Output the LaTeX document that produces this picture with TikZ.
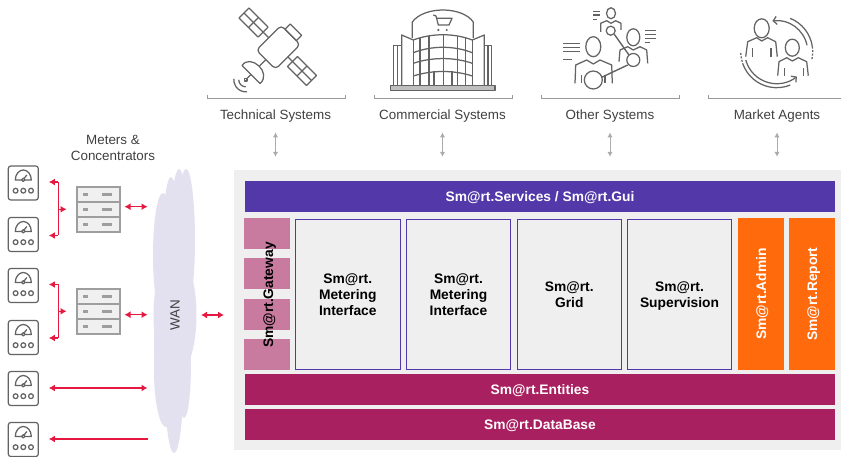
\documentclass[tikz,border=0pt]{standalone}
\usepackage{fontspec}
\setmainfont{Liberation Sans}
\usetikzlibrary{arrows.meta}
\definecolor{iconcol}{HTML}{636363}
\definecolor{redcol}{HTML}{E6183F}
\definecolor{purplecol}{HTML}{5238A8}
\definecolor{wineccol}{HTML}{A92060}
\definecolor{pinkcol}{HTML}{C97A9F}
\definecolor{orangecol}{HTML}{FF6A0D}
\definecolor{panelcol}{HTML}{EFEFEF}
\definecolor{cloudcol}{HTML}{E3E0EF}
\definecolor{textcol}{HTML}{404040}
\tikzset{
	icon/.style={draw=iconcol,line width=1.25pt,line join=round},
	lab/.style={text=textcol,font=\fontsize{13.4}{16}\selectfont,align=center,inner sep=0pt},
	blab/.style={font=\fontsize{13.8}{16}\selectfont\bfseries,align=center,inner sep=0pt},
	bar/.style={blab,text=white,text height=10pt,text depth=0pt,minimum height=31pt,minimum width=590pt},
	modbox/.style={blab,draw=purplecol,line width=1.1pt,fill=panelcol,minimum width=104.5pt,minimum height=150pt},
	sidebox/.style={blab,text=white,text height=10pt,text depth=0pt,fill=orangecol,rotate=90,minimum width=152pt,minimum height=46pt},
	gateblock/.style={fill=pinkcol,minimum width=46pt,minimum height=31pt,inner sep=0pt},
	meterbox/.style={draw=iconcol,rounded corners=2.5pt,line width=1.2pt,fill=white,minimum width=30pt,minimum height=34pt,inner sep=0pt},
	concbox/.style={draw=black!38,line width=2pt,fill=black!6,minimum width=43pt,minimum height=45pt,inner sep=0pt},
	redarrow/.style={draw=redcol,line width=1.2pt,{Latex[length=6pt,width=7pt]}-{Latex[length=6pt,width=7pt]}},
	redone/.style={draw=redcol,line width=1.2pt,-{Latex[length=6pt,width=7pt]}},
	greyarrow/.style={draw=black!33,line width=1pt,{Latex[length=5pt,width=5.5pt]}-{Latex[length=5pt,width=5.5pt]}},
	bracketline/.style={draw=black!40,line width=0.9pt},
	meterface/.pic={
		\draw[icon] (-8,-3) arc[start angle=180,end angle=360,x radius=8,y radius=10] -- cycle;
		\draw[icon] (0,-3.5) -- (3.5,-8);
		\draw[icon,fill=white] (0,-3.2) circle (1.7);
		\foreach \cx in {-7.7,0,7.7}
			\draw[icon] (\cx,7.7) circle (2.4);
	},
	concface/.pic={
		\draw[draw=black!38,line width=2pt] (-21.5,-7.5) -- (21.5,-7.5);
		\draw[draw=black!38,line width=2pt] (-21.5,7.5) -- (21.5,7.5);
		\foreach \ry in {-15,0,15} {
			\fill[black!38] (-15,\ry-1.5) rectangle (-10,\ry+1.5);
			\fill[black!38] (4,\ry-1.5) rectangle (14,\ry+1.5);
		}
	},
}
\begin{document}
\begin{tikzpicture}[x=1pt,y=-1pt]
	\useasboundingbox (0,0) rectangle (841,457);
	% main panel
	\node[fill=panelcol,minimum width=607pt,minimum height=280pt,inner sep=0pt] (panel) at (537.5,310) {};
	\node[bar,fill=purplecol] (services) at (540,196.5) {Sm@rt.Services / Sm@rt.Gui};
	\node[gateblock] (gate1) at (267,233.5) {};
	\node[gateblock] (gate2) at (267,273.5) {};
	\node[gateblock] (gate3) at (267,314.5) {};
	\node[gateblock] (gate4) at (267,354.5) {};
	\node[blab,rotate=90,text=black,text height=10pt,text depth=0pt] (gateway) at (268,295) {Sm@rt.Gateway};
	\node[modbox] (metering1) at (347.8,294.5) {Sm@rt.\\Metering\\Interface};
	\node[modbox] (metering2) at (458.5,294.5) {Sm@rt.\\Metering\\Interface};
	\node[modbox] (grid) at (569.3,294.5) {Sm@rt.\\Grid};
	\node[modbox] (supervision) at (679.5,294.5) {Sm@rt.\\Su\smash{p}ervision};
	\node[sidebox] (admin) at (761,294) {Sm@rt.Admin};
	\node[sidebox] (report) at (812,294) {Sm@rt.Report};
	\node[bar,fill=wineccol] (entities) at (540,389.5) {Sm@rt.Entities};
	\node[bar,fill=wineccol] (database) at (540,424.5) {Sm@rt.DataBase};
	% cloud
	\foreach \cx/\cy/\rx/\ry in {163/255/10/62,171/240/8/63,179/230/8/61,186/240/9/71,176/250/18/60,175/315/21.5/62,166/370/12/57,174/385/9/68,184/365/7/53,172/345/18/60}
		\fill[cloudcol] (\cx,\cy) ellipse (\rx pt and \ry pt);
	\node[lab,rotate=90] (wan) at (175,315) {WAN};
	% meters
	\foreach \n/\my in {1/183,2/234.5,3/285.5,4/337.5,5/388.5,6/439.5} {
		\node[meterbox] (meter\n) at (23.3,\my) {};
		\pic at (meter\n) {meterface};
	}
	\node[concbox] (conc1) at (98,209.3) {};
	\pic at (conc1) {concface};
	\node[concbox] (conc2) at (98,311.3) {};
	\pic at (conc2) {concface};
	\node[lab] (metersl) at (113,148) {Meters \&\\Concentrators};
	% red connectors
	\coordinate (brA) at (58,182);
	\coordinate (brB) at (58,235.5);
	\coordinate (brC) at (58,284.5);
	\coordinate (brD) at (58,338);
	\draw[redcol,line width=1pt] (brA) -- (brB);
	\draw[redcol,line width=1pt] (brC) -- (brD);
	\draw[redone,shorten >=10pt] (brA) -- (brA -| meter1.east);
	\draw[redone,shorten >=10pt] (brB) -- (brB -| meter2.east);
	\draw[redone,shorten >=10pt] (brC) -- (brC -| meter3.east);
	\draw[redone,shorten >=10pt] (brD) -- (brD -| meter4.east);
	\draw[redone,shorten >=9pt] (brA |- conc1.west) -- (conc1.west);
	\draw[redone,shorten >=9pt] (brC |- conc2.west) -- (conc2.west);
	\coordinate (cloudA) at (147.5,206.7);
	\coordinate (cloudB) at (147.5,314.7);
	\coordinate (cloudC) at (147.5,388);
	\coordinate (cloudD) at (148,439);
	\coordinate (wanout) at (201,315);
	\coordinate (gatein) at (224,315);
	\draw[redarrow] (124.5,206.7 |- cloudA) -- (cloudA);
	\draw[redarrow,line width=1.5pt] (124.5,314.7 |- cloudB) -- (cloudB);
	\draw[redarrow,line width=1.5pt,shorten <=10pt] (cloudC -| meter5.east) -- (cloudC);
	\draw[redone,line width=1.5pt,shorten >=10pt] (cloudD) -- (cloudD -| meter6.east);
	\draw[redarrow,line width=1.5pt] (wanout) -- (gatein);
	% top groups
	\node[lab] (technical) at (275.5,116) {Technical Systems};
	\node[lab] (commercial) at (442.5,116) {Commercial Systems};
	\node[lab] (other) at (610,116) {Other Systems};
	\node[lab] (market) at (777,116) {Market Agents};
	\draw[bracketline] (207,95) -- (207,98.5) -- (345,98.5) -- (345,95);
	\draw[bracketline] (374,95) -- (374,98.5) -- (512,98.5) -- (512,95);
	\draw[bracketline] (541,95) -- (541,98.5) -- (679,98.5) -- (679,95);
	\draw[bracketline] (708,95) -- (708,98.5) -- (841,98.5);
	\foreach \g in {technical,commercial,other,market}
		\draw[greyarrow,shorten <=10pt,shorten >=13pt] (\g.south) -- (\g.south |- panel.north);
	% satellite
	\begin{scope}[shift={(278.3,47.3)},rotate=45]
		\draw[icon,rounded corners=4pt] (-17.5,-13.5) rectangle (17.5,13.5);
		\draw[icon] (-7,-48.5) rectangle (7,-21.5);
		\draw[icon] (0,-48.5) -- (0,-21.5);
		\draw[icon] (-7,-35) -- (7,-35);
		\draw[icon] (0,-21.5) -- (0,-13.5);
		\draw[icon] (-7,20) rectangle (7,47);
		\draw[icon] (0,20) -- (0,47);
		\draw[icon] (-7,33.5) -- (7,33.5);
		\draw[icon] (0,13.5) -- (0,20);
		\draw[icon] (17.5,-8) rectangle (25,8);
		\draw[icon] (-38.6,-12.7) .. controls (-24,-16) and (-22,14) .. (-38.6,12.7) -- cycle;
		\draw[icon] (-26.5,0) -- (-17.5,0);
		\draw[icon] (-38.6,0) -- (-44,0);
		\draw[icon] (-46,0) circle (1.8);
		\draw[icon] (-46,0) ++(135:7) arc[start angle=135,end angle=225,radius=7];
		\draw[icon] (-46,0) ++(130:12) arc[start angle=130,end angle=230,radius=12];
	\end{scope}
	% building
	\draw[icon] (412.3,38) -- (412.3,22) .. controls (424,6) and (462,6) .. (473.3,22) -- (473.3,38);
	\draw[icon] (413.3,40) .. controls (432,33) and (454,33) .. (472.3,40);
	\draw[icon] (413.3,52.7) .. controls (432,45.5) and (454,45.5) .. (472.3,52.7);
	\draw[icon] (413.3,63.3) .. controls (432,57) and (454,57) .. (472.3,63.3);
	\draw[icon] (413.3,76) .. controls (432,70) and (454,70) .. (472.3,76);
	\draw[icon,line width=1.6pt] (413.3,40) -- (413.3,85);
	\draw[icon,line width=1.6pt] (472.3,40) -- (472.3,85);
	\foreach \fx/\fy in {420/38,429/36,443.3/34.5,457.7/36,465.7/38}
		\draw[icon] (\fx,\fy) -- (\fx,85);
	\foreach \fx in {434,452}
		\draw[icon] (\fx,71) -- (\fx,85);
	\draw[icon] (401.7,85) -- (401.7,35) -- (413.3,40);
	\draw[icon] (484.3,85) -- (484.3,35) -- (472.3,40);
	\draw[icon] (393.3,85) -- (393.3,45.7) -- (401.7,45.7);
	\draw[icon] (397.5,45.7) -- (397.5,85);
	\draw[icon] (491.7,85) -- (491.7,45.7) -- (484.3,45.7);
	\draw[icon] (488,45.7) -- (488,85);
	\draw[icon,fill=black!25] (390.7,85.5) rectangle (495,90.5);
	\draw[icon] (433.3,15) -- (436,16) -- (438.3,25) -- (449,25) -- (452,18.3) -- (436.3,18.3);
	\fill[iconcol] (438.3,30) circle (1.2);
	\fill[iconcol] (446.7,30) circle (1.2);
	% other systems
	\draw[icon] (611,13.3) ellipse (4.5 and 5.5);
	\draw[icon] (600.7,32) -- (600.7,23.3) -- (606.7,20.7) -- (611,23.3) -- (615.7,20.7) -- (621,23.3) -- (621,30);
	\foreach \ly/\lx in {11.7/600,15/600,19.3/596.7}
		\draw[icon] (593.3,\ly) -- (\lx,\ly);
	\draw[icon] (610.7,30.7) circle (4.5);
	\draw[icon] (633.3,37.3) ellipse (6.5 and 8.5);
	\draw[icon] (619,61.7) -- (620,50) -- (627.7,46.7) -- (633.3,50) -- (640,46.7) -- (646.7,50) -- (647.7,63.3);
	\foreach \ly/\lx in {30.7/655.7,34.7/655.7,38.7/655.7,42.7/650}
		\draw[icon] (645,\ly) -- (\lx,\ly);
	\draw[icon] (633.3,60) circle (6.5);
	\draw[icon] (593.3,46.7) ellipse (7.5 and 10);
	\draw[icon] (575,83.3) -- (575.7,65) -- (586.7,60) -- (593.3,64) -- (600,60) -- (611.7,65) -- (612.3,83.3);
	\foreach \vx in {581.7,605}
		\draw[icon] (\vx,75) -- (\vx,83.3);
	\foreach \ly/\lx in {43.3/580,47.3/580,51.7/580,59.3/571.7}
		\draw[icon] (563.3,\ly) -- (\lx,\ly);
	\draw[icon,fill=white] (593.3,80) circle (9);
	\draw[icon,line width=1.4pt] (614.3,34.3) -- (629,55);
	\draw[icon,line width=1.4pt] (601.7,77.3) -- (627.7,65);
	% market agents
	\draw[icon] (761.7,28.3) ellipse (7.5 and 9.5);
	\draw[icon] (745.7,56.7) -- (747.7,41.7) -- (756.7,37.7) -- (761.7,41) -- (767.7,37.7) -- (775.7,41.7) -- (777.3,56.7);
	\foreach \vx in {752.3,771}
		\draw[icon] (\vx,48.3) -- (\vx,56.7);
	\draw[icon] (792.3,47.7) ellipse (7 and 8.5);
	\draw[icon] (777.7,75.7) -- (779,61.7) -- (786.7,57.7) -- (792.3,61) -- (798.3,57.7) -- (806.7,61.7) -- (808.3,75.7);
	\foreach \vx in {784.3,803.3}
		\draw[icon] (\vx,68.3) -- (\vx,75.7);
	\coordinate (agentc) at (776.7,51.7);
	\draw[icon,{Straight Barb[length=3.5pt,width=8pt]}-] (agentc) ++(-98:31) arc[start angle=-98,end angle=-12,radius=31];
	\draw[icon] (agentc) ++(-68:36) arc[start angle=-68,end angle=-8,radius=36];
	\draw[icon,dash pattern=on 2pt off 1.5pt] (agentc) ++(-8:36) arc[start angle=-8,end angle=14,radius=36];
	\draw[icon,-{Straight Barb[length=3.5pt,width=8pt]}] (agentc) ++(165:32) arc[start angle=165,end angle=51,radius=32];
	\draw[icon] (agentc) ++(160:36) arc[start angle=160,end angle=68,radius=36];
	\draw[icon,dash pattern=on 2pt off 1.5pt] (agentc) ++(178:36) arc[start angle=178,end angle=160,radius=36];
\end{tikzpicture}
\end{document}
